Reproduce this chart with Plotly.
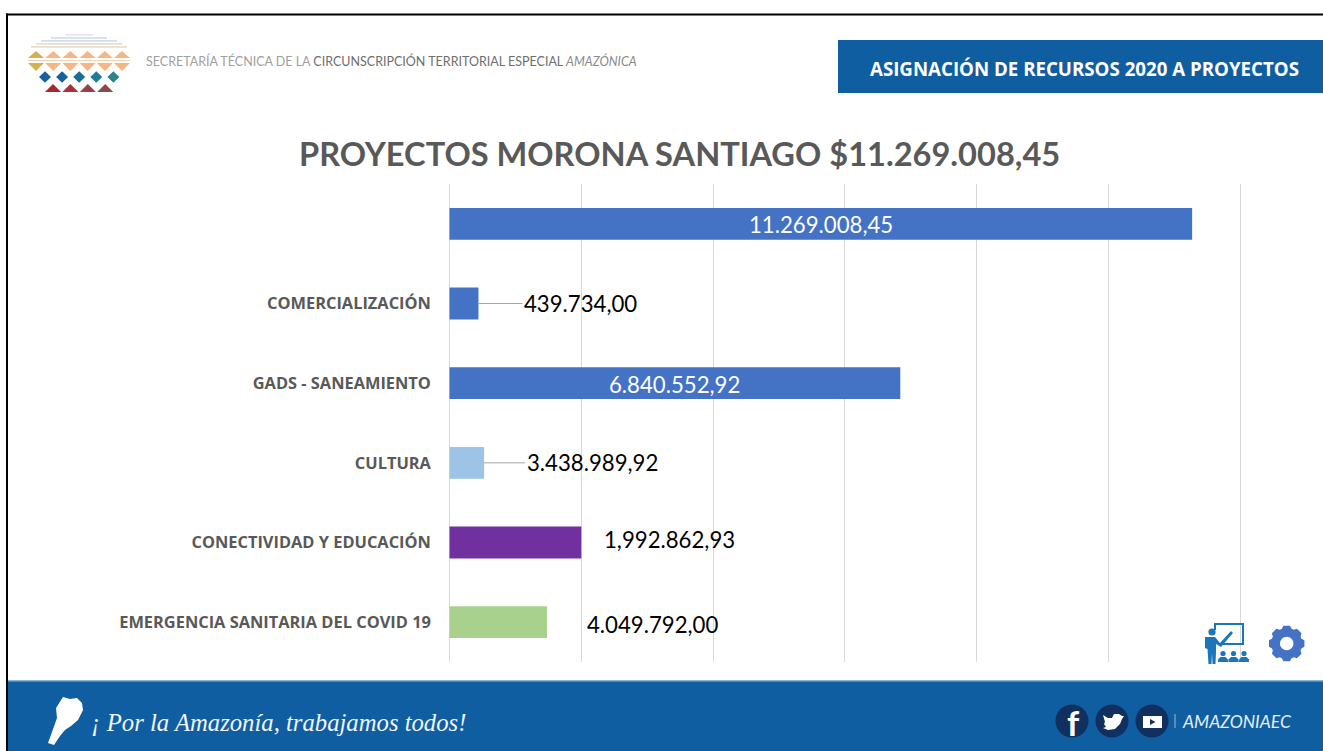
import math
import plotly.graph_objects as go

W, H = 1323, 751

categories = [" ", "COMERCIALIZACIÓN", "GADS - SANEAMIENTO", "CULTURA",
              "CONECTIVIDAD Y EDUCACIÓN", "EMERGENCIA SANITARIA DEL COVID 19"]
bar_values = [11269008.45, 439734.00, 6840552.92, 525000, 2000000, 1480000]
bar_labels = ["11.269.008,45", "439.734,00", "6.840.552,92", "3.438.989,92",
              "1,992.862,93", "4.049.792,00"]
bar_colors = ["#4472C4", "#4472C4", "#4472C4", "#9DC3E6", "#7030A0", "#A9D18E"]
label_inside = [True, False, True, False, False, False]
label_offset_px = [0, 44, 0, 41, 21, 38]
label_dy_px = [1, 0, 1, 0, -3, 2]
leader = [False, True, False, True, False, False]
x_ticks = [0, 2000000, 4000000, 6000000, 8000000, 10000000, 12000000]
x_range = [-50000, 12050000]

FONT = "Lato, Carlito, Calibri, sans-serif"
WIDE = "'Open Sans', Lato, sans-serif"
GRAY = "#595959"
BLUE = "#0F5EA1"
NAVY = "#12305F"

fig = go.Figure(go.Bar(
    y=categories, x=bar_values, orientation="h",
    marker=dict(color=bar_colors, line_width=0),
    hoverinfo="skip",
))

L, T, R, B = 446.2, 184, 1243.6, 662
fig.update_layout(
    width=W, height=H, autosize=False,
    margin=dict(l=0, r=0, t=0, b=0, pad=0),
    paper_bgcolor="white", plot_bgcolor="white",
    showlegend=False, bargap=0.6,
    font=dict(family=FONT, color=GRAY),
    xaxis=dict(domain=[L / W, R / W], range=x_range, tickvals=x_ticks, showticklabels=False,
               showgrid=True, gridcolor="#D9D9D9", gridwidth=1, zeroline=False,
               showline=False, ticks="", fixedrange=True),
    yaxis=dict(domain=[1 - B / H, 1 - T / H], autorange="reversed", type="category", showgrid=False,
               zeroline=False, showline=False, ticks="outside", ticklen=11, tickcolor="rgba(0,0,0,0)",
               tickfont=dict(size=16.4, color=GRAY, family=WIDE, weight="bold"),
               fixedrange=True),
)

def px(x): return x / W
def py(y): return 1 - y / H

shapes = []
annots = []

def rect(x0, y0, x1, y1, color):
    shapes.append(dict(type="rect", xref="paper", yref="paper", x0=px(x0), x1=px(x1),
                       y0=py(y0), y1=py(y1), fillcolor=color, line_width=0, layer="above"))

def circle(cx, cy, r, color):
    shapes.append(dict(type="circle", xref="paper", yref="paper", x0=px(cx - r), x1=px(cx + r),
                       y0=py(cy - r), y1=py(cy + r), fillcolor=color, line_width=0, layer="above"))

def poly(pts, color):
    d = "M " + " L ".join(f"{px(x):.5f},{py(y):.5f}" for x, y in pts) + " Z"
    shapes.append(dict(type="path", xref="paper", yref="paper", path=d, line_width=0,
                       fillcolor=color, layer="above"))

def text(x, y, s, size, color, anchor="left", family=FONT):
    annots.append(dict(xref="paper", yref="paper", x=px(x), y=py(y), text=s, showarrow=False,
                       xanchor=anchor, yanchor="middle", align=anchor,
                       font=dict(size=size, color=color, family=family)))

# frame, header, footer
rect(6, 13.5, W, 15.5, "#000000")
rect(6, 13.5, 8, H, "#000000")
rect(838, 40, W, 93, BLUE)
rect(8, 681, W, H, BLUE)
rect(8, 680, W, 681.5, "#8DB4D2")

# header texts
text(868, 68, "<b>ASIGNACIÓN DE RECURSOS 2020 A PROYECTOS</b>", 18.7, "white", family=WIDE)
text(144, 61, "<span style='color:#A0A0A0'>SECRETARÍA TÉCNICA DE LA </span><span style='color:#6E6E6E'>CIRCUNSCRIPCIÓN TERRITORIAL ESPECIAL </span><span style='color:#8A8A8A'><i>AMAZÓNICA</i></span>",
     12.5, "#808080")
text(679.5, 153, "<b>PROYECTOS MORONA SANTIAGO $11.269.008,45</b>", 32.6, GRAY, anchor="center")

# logo
for i, (y, hw) in enumerate([(34, 14), (37, 28), (40, 38), (43, 43), (46, 48)]):
    c = ["#E3E6F0", "#D5DEE9", "#D3DCE8", "#E2DDD8", "#EBDCCB"][i]
    rect(79 - hw, y, 79 + hw, y + 1.7, c)
tri_cols = ["#D2B24F", "#F6B583", "#F6B583", "#F6B583", "#F6B583", "#F6B583"]
for i, c in enumerate(tri_cols):
    cx = 36 + i * 17.2
    poly([(cx - 8, 58), (cx + 8, 58), (cx, 51)], c)
    poly([(cx - 8, 63), (cx + 8, 63), (cx, 71)], c)
rect(28, 60, 130, 61, "#F2D2B0")
for i, c in enumerate(["#15609F", "#15609F", "#1C6C9A", "#1F7E95", "#2A8588"]):
    cx = 45 + i * 17.1
    poly([(cx - 6, 77), (cx, 71.3), (cx + 6, 77), (cx, 82.7)], c)
for i, c in enumerate(["#A5292F", "#A5333A", "#96404A", "#8C4A50"]):
    cx = 53 + i * 17.4
    poly([(cx - 8, 92), (cx + 8, 92), (cx, 84)], c)

# gear icon
cx, cy = 1286.7, 643.5
pts = []
for k in range(8):
    a = k * math.pi / 4
    for da, r in [(-0.32, 15.5), (-0.18, 18), (0.18, 18), (0.32, 15.5)]:
        pts.append((cx + r * math.cos(a + da), cy + r * math.sin(a + da)))
poly(pts, "#4472C4")
circle(cx, cy, 6.8, "white")

# teacher icon
TC = "#1C75B8"
poly([(1214, 630), (1214, 623), (1244, 623), (1244, 645), (1222, 645), (1222, 643), (1242, 643), (1242, 625), (1216, 625), (1216, 630)], TC)
circle(1212, 632, 3.6, TC)
poly([(1205, 637), (1215, 637), (1220, 643), (1231, 631), (1233, 633), (1221, 647), (1216, 644), (1216, 652),
      (1215.5, 664), (1212.5, 664), (1212, 653), (1211.5, 664), (1208.5, 664), (1207.5, 649), (1205, 648)], TC)
for x in (1223, 1233.5, 1244):
    circle(x, 653.5, 2.6, TC)
    poly([(x - 5, 662), (x - 5, 659.5), (x - 2.5, 657), (x + 2.5, 657), (x + 5, 659.5), (x + 5, 662)], TC)

# footer
poly([(63, 697), (70, 699), (77, 698), (82, 703), (83, 710), (78, 720), (71, 726), (65, 730), (60, 736),
      (54, 745), (48, 743), (52, 732), (57, 718), (56, 708)], "white")
text(89, 722, "<i>¡ Por la Amazonía, trabajamos todos!</i>", 24.7, "#F2F6FA", family="'Liberation Serif', serif")

for x in (1072, 1112, 1152):
    circle(x, 721, 16.5, NAVY)
text(1073, 722, "<b>f</b>", 34, "white", anchor="center")
poly([(1103, 715), (1108, 718), (1112, 718), (1114, 714), (1119, 714), (1122, 716), (1124, 716), (1122, 719),
      (1120, 724), (1115, 729), (1108, 730), (1103, 728), (1106, 727), (1104, 724), (1105, 722)], "white")
rect(1143, 716, 1162, 728, "white")
poly([(1150, 719), (1150, 725), (1155.5, 722)], NAVY)
rect(1174.5, 714, 1175.5, 728, "#9DBAD6")
text(1180, 721, "<i>AMAZONIAEC</i>", 17.5, "#E6EEF6")

# data labels: inside (centred on the bar), outside and leaders
for cat, val, lab, ins, off, dy, lead in zip(categories, bar_values, bar_labels, label_inside,
                                              label_offset_px, label_dy_px, leader):
    if ins:
        annots.append(dict(x=val / 2, y=cat, xref="x", yref="y", text=lab, showarrow=False, xanchor="center",
                           yanchor="middle", yshift=-dy,
                           font=dict(size=22.2, color="white", family=FONT)))
    elif lead:
        annots.append(dict(x=val, y=cat, xref="x", yref="y", text=lab, showarrow=True, arrowhead=0,
                           arrowwidth=1, arrowcolor="#A6A6A6", axref="pixel", ayref="pixel", ax=off, ay=0,
                           xanchor="left", yanchor="middle", standoff=0, startstandoff=0,
                           font=dict(size=22.2, color="black", family=FONT)))
    else:
        annots.append(dict(x=val, y=cat, xref="x", yref="y", text=lab, showarrow=False, xanchor="left",
                           yanchor="middle", xshift=off, yshift=-dy,
                           font=dict(size=22.2, color="black", family=FONT)))

fig.update_layout(shapes=shapes, annotations=annots)

fig.write_html("out.html", config={"displayModeBar": False},
               post_script="document.body.style.margin='0';document.body.style.overflow='hidden';")
